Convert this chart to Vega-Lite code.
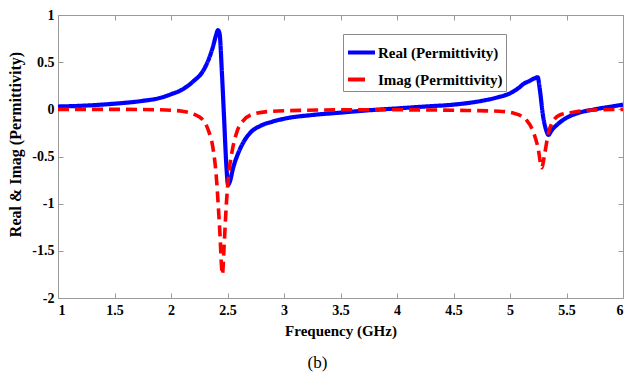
{
  "$schema": "https://vega.github.io/schema/vega-lite/v6.json",
  "width": 565,
  "height": 283,
  "autosize": {"type": "none"},
  "padding": {"left": 58, "top": 15, "right": 4, "bottom": 75},
  "background": "white",
  "title": {"text": "(b)", "orient": "bottom", "anchor": "middle", "offset": 17, "dx": -23, "font": "Liberation Serif", "fontSize": 17, "fontWeight": "normal", "color": "black"},
  "config": {
    "view": {"stroke": null},
    "axis": {"grid": false, "domainColor": "#9a9a9a", "tickColor": "#9a9a9a", "tickSize": -5, "labelFont": "Liberation Serif", "labelFontWeight": "bold", "labelFontSize": 14, "labelColor": "black", "titleFont": "Liberation Serif", "titleFontWeight": "bold", "titleFontSize": 15, "titleColor": "black"},
    "legend": {"labelFont": "Liberation Serif", "labelFontWeight": "bold", "labelFontSize": 15, "labelColor": "black"}
  },
  "datasets": {
    "perm": [
      {"f": 1.0, "v": 0.03, "s": "Real (Permittivity)"},
      {"f": 1.25, "v": 0.04, "s": "Real (Permittivity)"},
      {"f": 1.5, "v": 0.06, "s": "Real (Permittivity)"},
      {"f": 1.75, "v": 0.09, "s": "Real (Permittivity)"},
      {"f": 1.9, "v": 0.12, "s": "Real (Permittivity)"},
      {"f": 2.0, "v": 0.16, "s": "Real (Permittivity)"},
      {"f": 2.1, "v": 0.21, "s": "Real (Permittivity)"},
      {"f": 2.2, "v": 0.3, "s": "Real (Permittivity)"},
      {"f": 2.28, "v": 0.4, "s": "Real (Permittivity)"},
      {"f": 2.33, "v": 0.52, "s": "Real (Permittivity)"},
      {"f": 2.37, "v": 0.66, "s": "Real (Permittivity)"},
      {"f": 2.4, "v": 0.79, "s": "Real (Permittivity)"},
      {"f": 2.415, "v": 0.84, "s": "Real (Permittivity)"},
      {"f": 2.43, "v": 0.8, "s": "Real (Permittivity)"},
      {"f": 2.45, "v": 0.4, "s": "Real (Permittivity)"},
      {"f": 2.47, "v": -0.1, "s": "Real (Permittivity)"},
      {"f": 2.49, "v": -0.6, "s": "Real (Permittivity)"},
      {"f": 2.505, "v": -0.8, "s": "Real (Permittivity)"},
      {"f": 2.52, "v": -0.77, "s": "Real (Permittivity)"},
      {"f": 2.55, "v": -0.62, "s": "Real (Permittivity)"},
      {"f": 2.6, "v": -0.45, "s": "Real (Permittivity)"},
      {"f": 2.65, "v": -0.33, "s": "Real (Permittivity)"},
      {"f": 2.7, "v": -0.25, "s": "Real (Permittivity)"},
      {"f": 2.8, "v": -0.17, "s": "Real (Permittivity)"},
      {"f": 2.9, "v": -0.13, "s": "Real (Permittivity)"},
      {"f": 3.0, "v": -0.1, "s": "Real (Permittivity)"},
      {"f": 3.25, "v": -0.06, "s": "Real (Permittivity)"},
      {"f": 3.5, "v": -0.035, "s": "Real (Permittivity)"},
      {"f": 3.75, "v": -0.01, "s": "Real (Permittivity)"},
      {"f": 4.0, "v": 0.01, "s": "Real (Permittivity)"},
      {"f": 4.25, "v": 0.03, "s": "Real (Permittivity)"},
      {"f": 4.5, "v": 0.05, "s": "Real (Permittivity)"},
      {"f": 4.75, "v": 0.09, "s": "Real (Permittivity)"},
      {"f": 4.9, "v": 0.13, "s": "Real (Permittivity)"},
      {"f": 5.0, "v": 0.17, "s": "Real (Permittivity)"},
      {"f": 5.08, "v": 0.23, "s": "Real (Permittivity)"},
      {"f": 5.12, "v": 0.27, "s": "Real (Permittivity)"},
      {"f": 5.17, "v": 0.3, "s": "Real (Permittivity)"},
      {"f": 5.22, "v": 0.33, "s": "Real (Permittivity)"},
      {"f": 5.245, "v": 0.34, "s": "Real (Permittivity)"},
      {"f": 5.265, "v": 0.2, "s": "Real (Permittivity)"},
      {"f": 5.29, "v": -0.05, "s": "Real (Permittivity)"},
      {"f": 5.32, "v": -0.22, "s": "Real (Permittivity)"},
      {"f": 5.34, "v": -0.27, "s": "Real (Permittivity)"},
      {"f": 5.37, "v": -0.22, "s": "Real (Permittivity)"},
      {"f": 5.42, "v": -0.16, "s": "Real (Permittivity)"},
      {"f": 5.5, "v": -0.09, "s": "Real (Permittivity)"},
      {"f": 5.6, "v": -0.04, "s": "Real (Permittivity)"},
      {"f": 5.75, "v": 0.0, "s": "Real (Permittivity)"},
      {"f": 5.9, "v": 0.03, "s": "Real (Permittivity)"},
      {"f": 6.0, "v": 0.05, "s": "Real (Permittivity)"},
      {"f": 1.0, "v": 0.0, "s": "Imag (Permittivity)"},
      {"f": 1.5, "v": 0.0, "s": "Imag (Permittivity)"},
      {"f": 1.9, "v": -0.005, "s": "Imag (Permittivity)"},
      {"f": 2.1, "v": -0.02, "s": "Imag (Permittivity)"},
      {"f": 2.2, "v": -0.05, "s": "Imag (Permittivity)"},
      {"f": 2.28, "v": -0.11, "s": "Imag (Permittivity)"},
      {"f": 2.33, "v": -0.22, "s": "Imag (Permittivity)"},
      {"f": 2.37, "v": -0.4, "s": "Imag (Permittivity)"},
      {"f": 2.4, "v": -0.7, "s": "Imag (Permittivity)"},
      {"f": 2.43, "v": -1.25, "s": "Imag (Permittivity)"},
      {"f": 2.455, "v": -1.75, "s": "Imag (Permittivity)"},
      {"f": 2.47, "v": -1.45, "s": "Imag (Permittivity)"},
      {"f": 2.49, "v": -1.0, "s": "Imag (Permittivity)"},
      {"f": 2.51, "v": -0.7, "s": "Imag (Permittivity)"},
      {"f": 2.54, "v": -0.45, "s": "Imag (Permittivity)"},
      {"f": 2.58, "v": -0.25, "s": "Imag (Permittivity)"},
      {"f": 2.64, "v": -0.12, "s": "Imag (Permittivity)"},
      {"f": 2.73, "v": -0.05, "s": "Imag (Permittivity)"},
      {"f": 2.9, "v": -0.02, "s": "Imag (Permittivity)"},
      {"f": 3.2, "v": -0.01, "s": "Imag (Permittivity)"},
      {"f": 3.6, "v": -0.005, "s": "Imag (Permittivity)"},
      {"f": 4.0, "v": -0.005, "s": "Imag (Permittivity)"},
      {"f": 4.5, "v": -0.01, "s": "Imag (Permittivity)"},
      {"f": 4.9, "v": -0.02, "s": "Imag (Permittivity)"},
      {"f": 5.03, "v": -0.04, "s": "Imag (Permittivity)"},
      {"f": 5.1, "v": -0.07, "s": "Imag (Permittivity)"},
      {"f": 5.15, "v": -0.12, "s": "Imag (Permittivity)"},
      {"f": 5.2, "v": -0.22, "s": "Imag (Permittivity)"},
      {"f": 5.25, "v": -0.42, "s": "Imag (Permittivity)"},
      {"f": 5.28, "v": -0.62, "s": "Imag (Permittivity)"},
      {"f": 5.31, "v": -0.45, "s": "Imag (Permittivity)"},
      {"f": 5.34, "v": -0.25, "s": "Imag (Permittivity)"},
      {"f": 5.37, "v": -0.15, "s": "Imag (Permittivity)"},
      {"f": 5.44, "v": -0.06, "s": "Imag (Permittivity)"},
      {"f": 5.56, "v": -0.03, "s": "Imag (Permittivity)"},
      {"f": 5.7, "v": -0.01, "s": "Imag (Permittivity)"},
      {"f": 6.0, "v": 0.0, "s": "Imag (Permittivity)"}
    ]
  },
  "data": {"name": "perm"},
  "layer": [
    {
      "transform": [{"filter": "datum.s === 'Real (Permittivity)'"}],
      "mark": {"type": "line", "strokeWidth": 4.2, "clip": true, "interpolate": "monotone"},
      "encoding": {
        "x": {"field": "f", "type": "quantitative", "scale": {"domain": [1, 6], "nice": false, "zero": false},
          "axis": {"orient": "bottom", "title": "Frequency (GHz)", "values": [1, 1.5, 2, 2.5, 3, 3.5, 4, 4.5, 5, 5.5, 6], "labelExpr": "'' + datum.value", "labelPadding": 10, "titlePadding": 6}},
        "y": {"field": "v", "type": "quantitative", "scale": {"domain": [-2, 1], "nice": false, "zero": false},
          "axis": {"orient": "left", "title": "Real & Imag (Permittivity)", "titleFontSize": 16, "titleY": 129, "values": [-2, -1.5, -1, -0.5, 0, 0.5, 1], "labelExpr": "'' + datum.value", "labelPadding": 9, "titlePadding": 8}},
        "color": {"field": "s", "type": "nominal", "scale": {"domain": ["Real (Permittivity)", "Imag (Permittivity)"], "range": ["#0000FF", "#FF0000"]},
          "legend": {"title": null, "orient": "none", "legendX": 285, "legendY": 19, "symbolType": "M-1,0H1", "symbolSize": 729, "symbolStrokeWidth": 4, "fillColor": "white", "strokeColor": "#8a8a8a", "padding": 3, "rowPadding": 3, "labelOffset": 1}},
        "strokeDash": {"field": "s", "type": "nominal", "scale": {"domain": ["Real (Permittivity)", "Imag (Permittivity)"], "range": [[1, 0], [17, 10]]},
          "legend": {"title": null, "orient": "none", "legendX": 285, "legendY": 19, "symbolType": "M-1,0H1", "symbolSize": 729, "symbolStrokeWidth": 4, "fillColor": "white", "strokeColor": "#8a8a8a", "padding": 3, "rowPadding": 3, "labelOffset": 1}}
      }
    },
    {
      "transform": [{"filter": "datum.s === 'Imag (Permittivity)'"}],
      "mark": {"type": "line", "strokeWidth": 3.6, "clip": true, "interpolate": "monotone", "strokeDash": [11, 6]},
      "encoding": {
        "x": {"field": "f", "type": "quantitative", "scale": {"domain": [1, 6], "nice": false, "zero": false},
          "axis": {"orient": "top", "title": null, "labels": false, "values": [1, 1.5, 2, 2.5, 3, 3.5, 4, 4.5, 5, 5.5, 6]}},
        "y": {"field": "v", "type": "quantitative", "scale": {"domain": [-2, 1], "nice": false, "zero": false},
          "axis": {"orient": "right", "title": null, "labels": false, "values": [-2, -1.5, -1, -0.5, 0, 0.5, 1]}},
        "color": {"field": "s", "type": "nominal"}
      }
    }
  ],
  "resolve": {"axis": {"x": "independent", "y": "independent"}}
}
